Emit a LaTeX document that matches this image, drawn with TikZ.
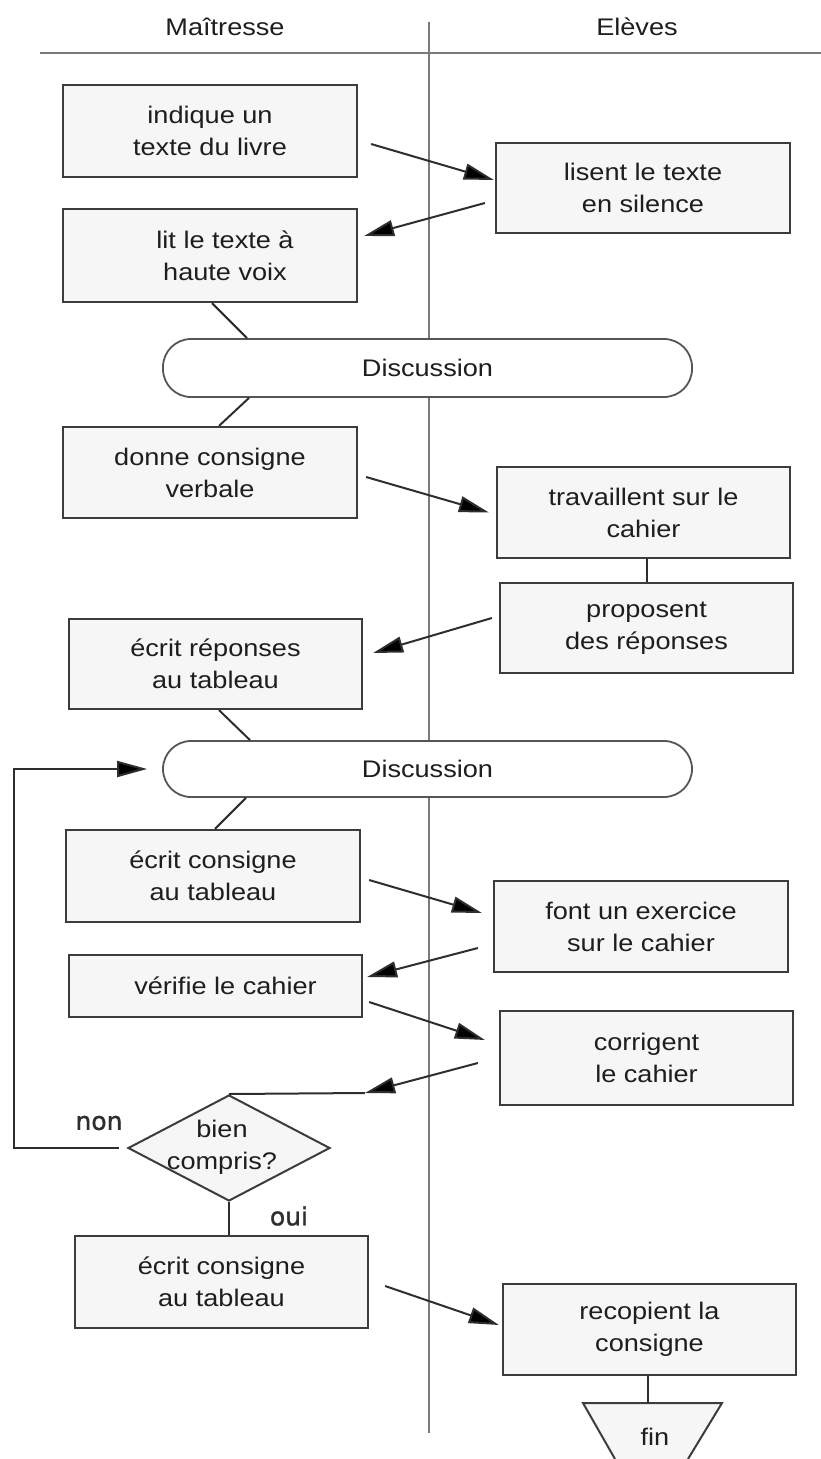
\documentclass[tikz,border=0pt]{standalone}
\usepackage{fontspec}
\setmainfont{Liberation Sans}[FakeStretch=1.13]
\newfontfamily\labfont{DejaVu Sans}[FakeBold=1.2]
\usetikzlibrary{arrows.meta,shapes.geometric,calc}
\definecolor{boxc}{HTML}{3C3C3C}
\definecolor{boxfill}{HTML}{F6F6F6}
\definecolor{pillc}{HTML}{555555}
\definecolor{txtc}{HTML}{1E1E1E}
\definecolor{linec}{HTML}{2E2E2E}
\definecolor{lanec}{HTML}{7A7A7A}
\begin{document}
\begin{tikzpicture}[x=1pt,y=-1pt,
  every node/.style={font=\fontsize{24}{32}\selectfont, text=txtc},
  box/.style={draw=boxc, line width=2.2pt, fill=boxfill, rectangle, inner sep=0pt, align=center},
  pill/.style={draw=pillc, line width=1.8pt, fill=white, rectangle, rounded corners=28pt, inner sep=0pt, align=center},
  dbox/.style={draw=boxc, line width=2pt, fill=boxfill, diamond, inner sep=0pt, minimum width=202pt, minimum height=106pt},
  conn/.style={draw=linec, line width=2pt},
  arr/.style={conn, -{Triangle[length=30pt,width=16pt,fill=black]}},
  lane/.style={draw=lanec, line width=2pt},
  lab/.style={font=\labfont\fontsize{25}{30}\selectfont, text=linec}
]
\useasboundingbox (0,0) rectangle (821,1459);

% swimlane header
\node (hm) at (225,27) {Maîtresse};
\node (he) at (637,27) {Elèves};
\draw[lane] (40,53) -- (821,53);
\draw[lane] (429,22) -- (429,1433);

% boxes
\node[box, minimum width=294pt, minimum height=92pt] (b1) at (210,131) {indique un\\texte du livre};
\node[box, minimum width=294pt, minimum height=90pt] (e1) at (643,188) {lisent le texte\\en silence};
\node[box, minimum width=294pt, minimum height=93pt] (b2) at (210,255.5) {\hspace*{30pt}lit le texte à\\\hspace*{30pt}haute voix};
\node[pill, minimum width=529pt, minimum height=58pt] (d1) at (427.5,368) {Discussion};
\node[box, minimum width=294pt, minimum height=91pt] (b3) at (210,472.5) {donne consigne\\verbale};
\node[box, minimum width=293pt, minimum height=91pt] (e2) at (643.5,512.5) {travaillent sur le\\cahier};
\node[box, minimum width=293pt, minimum height=90pt] (e3) at (646.5,628) {proposent\\des réponses};
\node[box, minimum width=293pt, minimum height=90pt] (b4) at (215.5,664) {écrit réponses\\au tableau};
\node[pill, minimum width=529pt, minimum height=56pt] (d2) at (427.5,769) {Discussion};
\node[box, minimum width=294pt, minimum height=92pt] (b5) at (213,876) {écrit consigne\\au tableau};
\node[box, minimum width=294pt, minimum height=91pt] (e4) at (641,926.5) {font un exercice\\sur le cahier};
\node[box, minimum width=293pt, minimum height=62pt] (b6) at (215.5,986) {\hspace*{20pt}vérifie le cahier};
\node[box, minimum width=293pt, minimum height=94pt] (e5) at (646.5,1058) {corrigent\\le cahier};
\node[dbox] (dia) at (229,1148) {};
\node[align=center] (diat) at (222,1147.5) {bien\\compris?};
\node[box, minimum width=293pt, minimum height=92pt] (b7) at (221.5,1282) {écrit consigne\\au tableau};
\node[box, minimum width=293pt, minimum height=91pt] (e6) at (649.5,1329.5) {recopient la\\consigne};

% end terminal (cut by the page edge)
\fill[boxfill] (615,1459) -- (583,1403) -- (722,1403) -- (688,1459) -- cycle;
\draw[boxc, line width=2pt] (615,1459) -- (583,1403) -- (722,1403) -- (688,1459);
\coordinate (fintop) at (652.5,1403);
\node (fin) at (655,1437) {fin};

% connectors
\draw[arr] ([xshift=13pt,yshift=-13pt]b1.east) -- ([xshift=-1pt,yshift=8pt]e1.west);
\draw[arr] ([xshift=-10pt,yshift=-15pt]e1.west) -- ([xshift=6pt,yshift=19.5pt]b2.east);
\draw[conn] ([xshift=2pt]b2.south) -- ([xshift=-180.5pt]d1.north);
\draw[conn] ([xshift=-178.5pt]d1.south) -- ([xshift=9pt]b3.north);
\draw[arr] ([xshift=8pt,yshift=-4.5pt]b3.east) -- ([xshift=-7pt]e2.west);
\draw[conn] (e3.north) -- (e3.north |- e2.south);
\draw[arr] ([xshift=-7pt,yshift=10pt]e3.west) -- ([xshift=10pt,yshift=11pt]b4.east);
\draw[conn] ([xshift=3.5pt]b4.south) -- ([xshift=-177.5pt]d2.north);
\draw[conn] ([xshift=-181.5pt]d2.south) -- ([xshift=2pt]b5.north);
\draw[arr] ([xshift=8pt,yshift=-4pt]b5.east) -- ([xshift=-11pt,yshift=13.5pt]e4.west);
\draw[arr] ([xshift=-15pt,yshift=-21.5pt]e4.west) -- ([xshift=4pt,yshift=9pt]b6.east);
\draw[arr] ([xshift=6pt,yshift=-16pt]b6.east) -- ([xshift=-14pt,yshift=18pt]e5.west);
\coordinate (dj) at ([xshift=136pt,yshift=1pt]dia.north);
\draw[arr] ([xshift=-21pt,yshift=-5pt]e5.west) -- (dj);
\draw[conn] (dia.north) -- (dj);
\coordinate (loopc) at (14,1148);
\draw[arr] ([xshift=-8pt]dia.west) -- (loopc) |- ([xshift=-15pt]d2.west);
\node[lab] (non) at (99,1123) {non};
\node[lab] (oui) at (289,1216) {oui};
\draw[conn] (dia.south) -- (dia.south |- b7.north);
\draw[arr] ([xshift=16pt,yshift=-4pt]b7.east) -- ([xshift=-3pt,yshift=4.5pt]e6.west);
\draw[conn] ([xshift=-1.5pt]e6.south) -- ([xshift=-4.5pt]fintop);
\end{tikzpicture}
\end{document}
